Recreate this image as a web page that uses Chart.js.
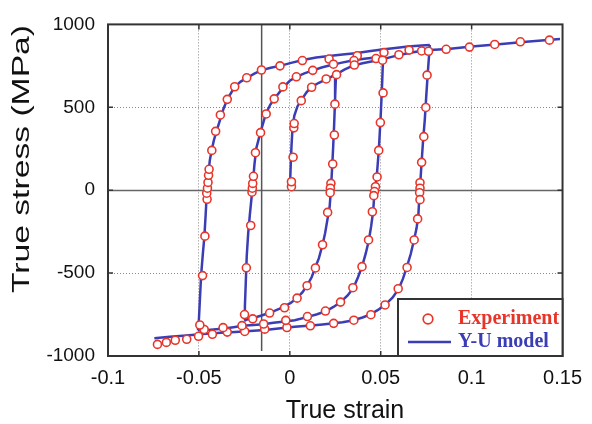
<!DOCTYPE html>
<html><head><meta charset="utf-8">
<script src="https://cdn.jsdelivr.net/npm/chart.js@4"></script>
<style>html,body{margin:0;padding:0;background:#fff}canvas{display:block}</style>
</head><body>
<canvas id="c" width="592" height="424"></canvas>
<script>
// ---- tick values / labels ----
const xTicks = [-0.1, -0.05, 0, 0.05, 0.1, 0.15];
const xTickLabels = ['-0.1', '-0.05', '0', '0.05', '0.1', '0.15'];
const yTicks = [-1000, -500, 0, 500, 1000];
const yTickLabels = ['-1000', '-500', '0', '500', '1000'];
const seriesNames = ['Experiment', 'Y-U model'];
const xTitle = 'True strain';
const yTitle = 'True stress (MPa)';

// ---- Y-U model curves [strain, stress] ----
const modelMonotonic = [[0,0],[0.0004,120],[0.0009,260],[0.0015,380],[0.0025,450],[0.0042,505],[0.0064,545],[0.0092,590],[0.0118,622],[0.016,648],[0.020,668],[0.0254,698],[0.030,727],[0.0344,750],[0.040,766],[0.0455,778],[0.0507,788],[0.056,804],[0.0616,818],[0.067,830],[0.072,840],[0.077,845],[0.087,852],[0.10,866],[0.115,881],[0.13,895],[0.1486,912]];
const modelDrop1 = [[0.0254,698],[0.0249,550],[0.0244,400],[0.0238,250],[0.0232,120],[0.0226,0],[0.0219,-100],[0.0208,-170],[0.0194,-260],[0.018,-329],[0.016,-410],[0.014,-466],[0.012,-525],[0.0096,-573],[0.007,-615],[0.0042,-648],[0.0005,-680],[-0.0036,-705],[-0.0078,-725],[-0.0118,-742],[-0.016,-757],[-0.020,-770],[-0.0235,-780],[-0.025,-785]];
const modelReload1 = [[-0.025,-785],[-0.0247,-700],[-0.0242,-550],[-0.0237,-400],[-0.0229,-260],[-0.0220,-150],[-0.0210,-40],[-0.0204,30],[-0.0195,150],[-0.0185,250],[-0.0163,343],[-0.0132,460],[-0.0108,515],[-0.0085,551],[-0.0036,620],[0.0,660],[0.0036,684],[0.008,705],[0.0127,723],[0.0175,740],[0.0217,752],[0.028,768],[0.0344,782],[0.041,793],[0.047,801],[0.0513,807]];
const modelDrop2 = [[0.0513,807],[0.0508,650],[0.0500,450],[0.0490,250],[0.0478,80],[0.0466,-10],[0.0458,-130],[0.0447,-220],[0.0435,-300],[0.0418,-380],[0.0398,-458],[0.0375,-525],[0.035,-589],[0.0318,-635],[0.028,-674],[0.024,-704],[0.020,-729],[0.015,-748],[0.010,-764],[0.0027,-784],[-0.0027,-792],[-0.009,-800],[-0.0145,-808],[-0.020,-813],[-0.026,-818],[-0.031,-826],[-0.036,-834],[-0.042,-840],[-0.047,-845],[-0.0505,-845]];
const modelReload2 = [[-0.0505,-845],[-0.0500,-780],[-0.0495,-671],[-0.0488,-515],[-0.0478,-380],[-0.0470,-281],[-0.0463,-150],[-0.0458,-47],[-0.0453,0],[-0.0448,100],[-0.0440,180],[-0.0430,240],[-0.0418,300],[-0.0404,353],[-0.0385,420],[-0.0365,490],[-0.0344,548],[-0.0304,622],[-0.027,655],[-0.0235,678],[-0.0195,703],[-0.0158,723],[-0.0105,738],[-0.0054,750],[0.0007,768],[0.0072,785],[0.0145,800],[0.0217,810],[0.029,818],[0.036,826],[0.0435,838],[0.0507,848],[0.058,858],[0.065,866],[0.0725,873],[0.077,876]];
const modelDrop3 = [[0.077,876],[0.0765,800],[0.0758,694],[0.0750,560],[0.0742,420],[0.0733,300],[0.0725,170],[0.0718,50],[0.0713,-30],[0.0707,-150],[0.0697,-230],[0.0683,-300],[0.0665,-385],[0.0643,-466],[0.0622,-535],[0.0598,-596],[0.0565,-648],[0.0525,-690],[0.0485,-722],[0.0444,-749],[0.040,-768],[0.0344,-786],[0.029,-796],[0.0241,-803],[0.018,-810],[0.0118,-816],[0.0027,-824],[-0.005,-833],[-0.0136,-843],[-0.022,-849],[-0.030,-855],[-0.038,-860],[-0.046,-866],[-0.057,-876],[-0.066,-884],[-0.0745,-893]];

// ---- Experiment points [strain, stress] ----
const expMonotonic = [[0.0009,21],[0.0009,51],[0.0018,199],[0.0022,376],[0.0024,402],[0.0063,540],[0.0120,621],[0.0200,671],[0.0257,697],[0.0355,755],[0.0510,784],[0.0600,817],[0.0725,840],[0.0763,838],[0.086,850],[0.0988,863],[0.1127,879],[0.1268,895],[0.1428,905]];
const expDrop1 = [[0.0248,519],[0.0245,333],[0.0236,158],[0.0226,41],[0.0223,12],[0.0222,-15],[0.0208,-134],[0.018,-329],[0.0141,-469],[0.0095,-576],[0.0040,-651],[-0.0029,-709],[-0.0111,-741],[-0.0204,-776]];
const expReload1 = [[-0.0249,-750],[-0.0239,-468],[-0.0215,-213],[-0.0208,-12],[-0.0206,12],[-0.0204,41],[-0.0200,84],[-0.0189,226],[-0.0161,347],[-0.0130,460],[-0.0086,551],[-0.0038,623],[0.0036,684],[0.0126,723],[0.0240,760],[0.0353,782],[0.0474,794]];
const expDrop2 = [[0.0513,587],[0.0498,408],[0.0489,240],[0.0480,80],[0.0471,21],[0.0466,-8],[0.0462,-33],[0.0454,-130],[0.0433,-300],[0.0397,-461],[0.0347,-588],[0.0279,-675],[0.0196,-729],[0.0097,-762],[-0.0022,-785],[-0.0144,-807],[-0.0263,-817],[-0.0367,-829],[-0.0471,-840],[-0.0495,-813]];
const expReload2 = [[-0.048,-515],[-0.0467,-277],[-0.0455,-55],[-0.0457,-18],[-0.0453,12],[-0.0450,47],[-0.0447,90],[-0.0444,126],[-0.0429,240],[-0.0408,355],[-0.0382,454],[-0.0344,548],[-0.0303,624],[-0.0237,678],[-0.0156,725],[-0.0054,750],[0.0069,782],[0.0216,791],[0.0371,811],[0.0518,830],[0.0656,845]];
const expDrop3 = [[0.0755,694],[0.0748,499],[0.0737,323],[0.0725,168],[0.0716,45],[0.0716,12],[0.0714,-15],[0.0716,-57],[0.0703,-173],[0.0684,-300],[0.0645,-466],[0.0596,-594],[0.0524,-692],[0.0446,-751],[0.0352,-784],[0.0241,-803],[0.0113,-818],[-0.0016,-828],[-0.0138,-838],[-0.0248,-852],[-0.0344,-856],[-0.0426,-869],[-0.0502,-881],[-0.0567,-899],[-0.063,-905],[-0.0679,-918],[-0.0728,-930]];

// ---- reference lines ----
const refVerticalX = [-0.0155, -0.0155];
const refVerticalY = [-970, 1000];
const zeroLineY = 0;

const RED = '#e8352a', BLUE = '#3b3db5';
const toPts = a => a.map(p => ({x: p[0], y: p[1]}));

const expSets = [expMonotonic, expDrop1, expReload1, expDrop2, expReload2, expDrop3].map(a => ({
  label: seriesNames[0], data: toPts(a), showLine: false, order: 0,
  pointRadius: 4, pointBorderWidth: 1.6, pointBorderColor: RED, pointBackgroundColor: '#fff'
}));
const modelSets = [modelMonotonic, modelDrop1, modelReload1, modelDrop2, modelReload2, modelDrop3].map(a => ({
  label: seriesNames[1], data: toPts(a), showLine: true, order: 1,
  borderColor: BLUE, borderWidth: 2.5, pointRadius: 0, tension: 0, fill: false
}));
const refSet = {
  label: 'ref', data: refVerticalX.map((x, i) => ({x, y: refVerticalY[i]})), showLine: true, order: 2,
  borderColor: '#555', borderWidth: 1.5, pointRadius: 0
};

const A = {left: 108, right: 566, top: 15, bottom: 356};

const decoPlugin = {
  id: 'deco',
  beforeDatasetsDraw(chart) {
    const {ctx, chartArea: a, scales: {x, y}} = chart;
    ctx.save();
    const py = Math.round(y.getPixelForValue(zeroLineY)) + 0.5;
    ctx.strokeStyle = '#666'; ctx.lineWidth = 1.5;
    ctx.beginPath(); ctx.moveTo(a.left, py); ctx.lineTo(a.right, py); ctx.stroke();
    ctx.restore();
  },
  afterDatasetsDraw(chart) {
    const {ctx, chartArea: a, scales: {x, y}} = chart;
    ctx.save();
    // frame
    ctx.strokeStyle = '#333'; ctx.lineWidth = 2;
    ctx.strokeRect(a.left, a.top, a.right - a.left, a.bottom - a.top);
    // inward ticks
    ctx.lineWidth = 1.5;
    xTicks.slice(1, -1).forEach(v => {
      const px = x.getPixelForValue(v);
      ctx.beginPath(); ctx.moveTo(px, a.bottom); ctx.lineTo(px, a.bottom - 5);
      ctx.moveTo(px, a.top); ctx.lineTo(px, a.top + 5); ctx.stroke();
    });
    yTicks.slice(1, -1).forEach(v => {
      const py = y.getPixelForValue(v);
      ctx.beginPath(); ctx.moveTo(a.left, py); ctx.lineTo(a.left + 5, py);
      ctx.moveTo(a.right, py); ctx.lineTo(a.right - 5, py); ctx.stroke();
    });
    // legend box
    const bx = 398, by = 299, bw = a.right - bx, bh = a.bottom - by;
    ctx.fillStyle = '#fff'; ctx.fillRect(bx, by, bw, bh);
    ctx.strokeStyle = '#333'; ctx.lineWidth = 2; ctx.strokeRect(bx, by, bw, bh);
    ctx.beginPath(); ctx.arc(428, 319, 4.8, 0, Math.PI * 2);
    ctx.fillStyle = '#fff'; ctx.fill(); ctx.strokeStyle = RED; ctx.lineWidth = 1.7; ctx.stroke();
    ctx.beginPath(); ctx.moveTo(408, 342); ctx.lineTo(451, 342);
    ctx.strokeStyle = BLUE; ctx.lineWidth = 2.5; ctx.stroke();
    ctx.font = 'bold 20px "Liberation Serif"'; ctx.textBaseline = 'middle'; ctx.textAlign = 'left';
    ctx.fillStyle = RED; ctx.fillText(seriesNames[0], 458, 319);
    ctx.fillStyle = BLUE; ctx.fillText(seriesNames[1], 458, 342);
    // axis titles
    ctx.fillStyle = '#111';
    ctx.font = '25px "Liberation Sans"';
    ctx.textAlign = 'center'; ctx.textBaseline = 'alphabetic';
    ctx.fillText(xTitle, 345, 418);
    ctx.font = '23px "Liberation Sans"';
    const w = ctx.measureText(yTitle).width;
    ctx.translate(29, 159); ctx.rotate(-Math.PI / 2); ctx.scale(268 / w, 1);
    ctx.fillText(yTitle, 0, 0);
    ctx.restore();
  }
};

new Chart(document.getElementById('c'), {
  type: 'scatter',
  data: {datasets: [...expSets, ...modelSets, refSet]},
  options: {
    responsive: false, animation: false, devicePixelRatio: 1,
    layout: {padding: {left: 0, right: 592 - A.right, top: A.top, bottom: 0}},
    plugins: {legend: {display: false}, tooltip: {enabled: false}},
    scales: {
      x: {
        type: 'linear', min: xTicks[0], max: xTicks[xTicks.length - 1],
        afterBuildTicks: s => { s.ticks = xTicks.map(v => ({value: v})); },
        afterFit: s => { s.height = 424 - A.bottom; },
        grid: {drawTicks: false, lineWidth: 1,
               color: c => (c.index === 0 || c.index === xTicks.length - 1) ? 'rgba(0,0,0,0)' : '#8a8a8a'},
        border: {display: false, dash: [1, 2]},
        ticks: {padding: 10, color: '#111', maxRotation: 0, autoSkip: false,
                font: {family: 'Liberation Sans', size: 20},
                callback: (v) => { const i = xTicks.findIndex(t => Math.abs(t - v) < 1e-9); return i >= 0 ? xTickLabels[i] : ''; }}
      },
      y: {
        type: 'linear', min: yTicks[0], max: yTicks[yTicks.length - 1],
        afterBuildTicks: s => { s.ticks = yTicks.map(v => ({value: v})); },
        afterFit: s => { s.width = A.left; },
        grid: {drawTicks: false, lineWidth: 1,
               color: c => (c.index === 0 || c.index === yTicks.length - 1 || yTicks[c.index] === 0) ? 'rgba(0,0,0,0)' : '#8a8a8a'},
        border: {display: false, dash: [1, 2]},
        ticks: {padding: 13, color: '#111', autoSkip: false,
                font: {family: 'Liberation Sans', size: 19},
                callback: (v) => { const i = yTicks.indexOf(v); return i >= 0 ? yTickLabels[i] : ''; }}
      }
    }
  },
  plugins: [decoPlugin]
});
</script>
</body></html>
